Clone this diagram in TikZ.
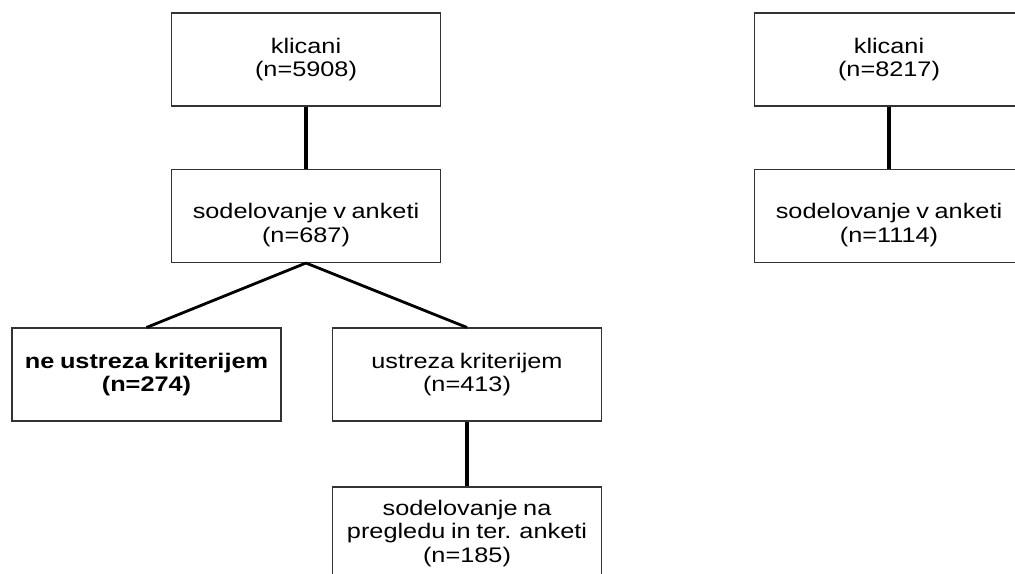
\documentclass[tikz,border=0pt]{standalone}
\usepackage{fontspec}
\setmainfont{Liberation Sans}[FakeStretch=1.2, WordSpace=0.8]
\newcommand{\lowstrut}{\rule{0pt}{0.66cm}}

\begin{document}
\begin{tikzpicture}[x=0.02cm, y=-0.02cm, font=\fontsize{12}{13.6}\selectfont,
		box/.style={draw=black!80, line width=0.6pt, rectangle, minimum width=5.38cm, minimum height=1.86cm, align=center, fill=white},
		link/.style={line width=2.3pt},
		fork/.style={line width=1.6pt}]
				\useasboundingbox (0,0) rectangle (1015,574);
				\clip (0,0) rectangle (1015,574);
				
				% left branch
				\node[box] (klic) at (306,59.5) {klicani\\(n=5908)};
				\node[box] (sodel) at (306,216) {\lowstrut sodelovanje v anketi\\(n=687)};
				\node[box] (neustr) at (146.5,374.5) {\textbf{ne ustreza kriterijem}\\\textbf{(n=274)}};
				\node[box] (ustr) at (467,374.5) {ustreza kriterijem\\(n=413)};
				\node[box] (pregl) at (467,533.5) {sodelovanje na\\pregledu in ter. anketi\\(n=185)};
				
				% right branch
				\node[box] (klicb) at (889,59.5) {klicani\\(n=8217)};
				\node[box] (sodelb) at (889,216) {\lowstrut sodelovanje v anketi\\(n=1114)};
				
				\draw[link] (klic.south) -- (sodel.north);
				\draw[fork] (sodel.south) -- (neustr.north);
				\draw[fork] (sodel.south) -- (ustr.north);
				\draw[link] (ustr.south) -- (pregl.north);
				\draw[link] (klicb.south) -- (sodelb.north);
			\end{tikzpicture}
\end{document}
